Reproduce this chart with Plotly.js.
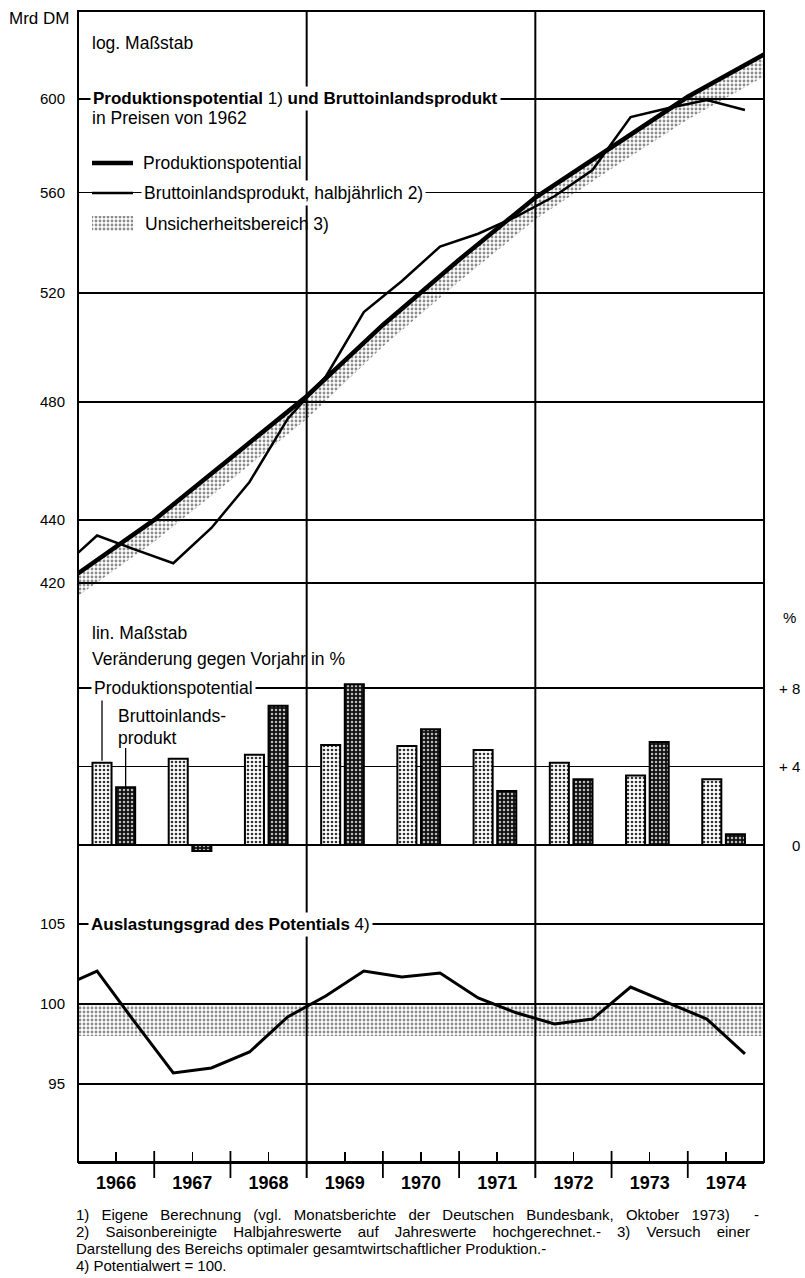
<!DOCTYPE html>
<html>
<head>
<meta charset="utf-8">
<script src="https://cdn.plot.ly/plotly-3.0.1.min.js"></script>
<style>
  html, body { margin: 0; padding: 0; background: #fff; }
  #chart { width: 805px; height: 1278px; }
</style>
</head>
<body>
<div id="chart"></div>
<script>
// ---------------- data ----------------
const years = [1966, 1967, 1968, 1969, 1970, 1971, 1972, 1973, 1974];
const yearLabels = ['1966', '1967', '1968', '1969', '1970', '1971', '1972', '1973', '1974'];

// Produktionspotential (Mrd DM, log scale), read at year boundaries
const potYears = [1966, 1967, 1968, 1969, 1970, 1971, 1972, 1973, 1974, 1975];
const potential = [423, 440, 460.5, 482, 508, 533, 558, 579, 601, 620];
// lower edge of Unsicherheitsbereich
const bandLow = [416, 433, 453, 474, 500, 524.5, 549, 570, 591, 610];

// Bruttoinlandsprodukt, halbjährlich (centres of half-years)
const halfYears = [1965.75, 1966.25, 1966.75, 1967.25, 1967.75, 1968.25, 1968.75, 1969.25, 1969.75,
                   1970.25, 1970.75, 1971.25, 1971.75, 1972.25, 1972.75, 1973.25, 1973.75, 1974.25, 1974.75];
const bip = [424, 435, 430.5, 426.2, 437.4, 452.5, 474, 489, 512.8,
             524.7, 538.2, 543.3, 550.2, 558.5, 569.4, 592.1, 596, 599.6, 595.2];

// Veränderung gegen Vorjahr in %
const potGrowth = [4.2, 4.4, 4.6, 5.1, 5.05, 4.85, 4.2, 3.55, 3.35];
const bipGrowth = [2.95, -0.3, 7.1, 8.2, 5.9, 2.75, 3.35, 5.25, 0.55];

// Auslastungsgrad des Potentials
const util = [101.0, 102.06, 98.83, 95.69, 96.0, 97.0, 99.19, 100.5, 102.06,
              101.69, 101.94, 100.38, 99.45, 98.75, 99.06, 101.06, 100.06, 99.06, 96.88];
const shadeX = [1966, 1975];
const shadeLow = [98, 98];
const shadeHigh = [100, 100];

// ticks
const topTicks = [420, 440, 480, 520, 560, 600];
const midTicks = [0, 4, 8];
const midTickText = ['0', '+ 4', '+ 8'];
const botTicks = [95, 100, 105];
const gridYears = [1969, 1972];

// legend swatch (pixel space of top panel)
const keyX = [92, 133, 133, 92, 92];
const keyY = [216, 216, 231, 231, 216];

// ---------------- geometry helpers ----------------
const L = 78, R = 764, T = 11, B = 1162;
const px = p => (p - L) / (R - L);
const py = p => (B - p) / (B - T);
const FONT = 'Liberation Sans, Arial, sans-serif';
const INK = '#000';

const barW = 0.25, potOff = 0.19, bipOff = 0.5;

const stippleBand = { shape: '.', fgcolor: '#1a1a1a', size: 4, solidity: 0.4, fillmode: 'overlay' };

// ---------------- traces ----------------
const data = [
  { x: potYears, y: bandLow, yaxis: 'y', xaxis: 'x', mode: 'lines', line: { width: 0, color: 'rgba(0,0,0,0)' },
    showlegend: false, hoverinfo: 'skip' },
  { x: potYears, y: potential, yaxis: 'y', xaxis: 'x', mode: 'lines', line: { width: 0, color: 'rgba(0,0,0,0)' },
    fill: 'tonexty', fillcolor: 'rgba(0,0,0,0)', fillpattern: stippleBand, showlegend: false, hoverinfo: 'skip' },
  { x: halfYears, y: bip, yaxis: 'y', xaxis: 'x', mode: 'lines', line: { width: 2.5, color: INK },
    showlegend: false, hoverinfo: 'skip' },
  { x: potYears, y: potential, yaxis: 'y', xaxis: 'x', mode: 'lines', line: { width: 4.5, color: INK },
    showlegend: false, hoverinfo: 'skip' },

  { type: 'bar', x: years, y: potGrowth, yaxis: 'y2', xaxis: 'x', width: barW, offset: potOff,
    marker: { color: '#fff', line: { color: INK, width: 2 },
      pattern: { shape: '.', fgcolor: '#333', bgcolor: '#fff', size: 4, solidity: 0.35, fillmode: 'replace' } },
    showlegend: false, hoverinfo: 'skip' },
  { type: 'bar', x: years, y: bipGrowth, yaxis: 'y2', xaxis: 'x', width: barW, offset: bipOff,
    marker: { color: '#111', line: { color: INK, width: 2 },
      pattern: { shape: '.', fgcolor: '#bbb', bgcolor: '#111', size: 4, solidity: 0.3, fillmode: 'replace' } },
    showlegend: false, hoverinfo: 'skip' },

  { x: shadeX, y: shadeLow, yaxis: 'y3', xaxis: 'x', mode: 'lines', line: { width: 0, color: 'rgba(0,0,0,0)' },
    showlegend: false, hoverinfo: 'skip' },
  { x: shadeX, y: shadeHigh, yaxis: 'y3', xaxis: 'x', mode: 'lines', line: { width: 0, color: 'rgba(0,0,0,0)' },
    fill: 'tonexty', fillcolor: 'rgba(0,0,0,0)', fillpattern: stippleBand, showlegend: false, hoverinfo: 'skip' },
  { x: halfYears, y: util, yaxis: 'y3', xaxis: 'x', mode: 'lines', line: { width: 3, color: INK },
    showlegend: false, hoverinfo: 'skip' },

  { x: keyX, y: keyY, xaxis: 'x2', yaxis: 'y4', mode: 'lines', line: { width: 0, color: 'rgba(0,0,0,0)' },
    fill: 'toself', fillcolor: 'rgba(0,0,0,0)', fillpattern: stippleBand, showlegend: false, hoverinfo: 'skip' }
];

// ---------------- shapes ----------------
const shapes = [];
shapes.push({ type: 'rect', xref: 'paper', yref: 'paper', x0: 0, x1: 1, y0: 0, y1: 1,
  line: { color: INK, width: 2 }, layer: 'above' });
gridYears.forEach(g => shapes.push({ type: 'line', xref: 'x', yref: 'paper', x0: g, x1: g,
  y0: py(1178), y1: 1, line: { color: INK, width: 2 }, layer: 'above' }));
years.slice(1).forEach(yv => {
  if (gridYears.indexOf(yv) < 0) {
    shapes.push({ type: 'line', xref: 'x', yref: 'paper', x0: yv, x1: yv, y0: py(1178), y1: py(1151),
      line: { color: INK, width: 1.8 }, layer: 'above' });
  }
});
shapes.push({ type: 'line', xref: 'paper', yref: 'paper', x0: px(92), x1: px(133), y0: py(163), y1: py(163),
  line: { color: INK, width: 4.5 }, layer: 'above' });
shapes.push({ type: 'line', xref: 'paper', yref: 'paper', x0: px(92), x1: px(133), y0: py(193), y1: py(193),
  line: { color: INK, width: 2.5 }, layer: 'above' });
shapes.push({ type: 'line', xref: 'x', yref: 'y2', x0: years[0] + potOff + barW / 2, x1: years[0] + potOff + barW / 2,
  y0: potGrowth[0] + 0.1, y1: 7.4, line: { color: INK, width: 1.3 }, layer: 'above' });
shapes.push({ type: 'line', xref: 'x', yref: 'y2', x0: years[0] + bipOff + barW / 2, x1: years[0] + bipOff + barW / 2,
  y0: bipGrowth[0], y1: 4.95, line: { color: INK, width: 1.3 }, layer: 'above' });

// ---------------- annotations ----------------
const ann = [];
function txt(text, x, y, size, opts) {
  ann.push(Object.assign({ text: text, xref: 'paper', yref: 'paper', x: x, y: y,
    xanchor: 'left', yanchor: 'middle', showarrow: false, borderpad: 1,
    font: { family: FONT, size: size, color: INK } }, opts || {}));
}
txt('Mrd DM', px(7), py(18), 17);
txt('log. Maßstab', px(90), py(43), 17.5);
txt('<b>Produktionspotential</b> 1) <b>und Bruttoinlandsprodukt</b>', px(90), py(99), 17, { bgcolor: '#fff', borderpad: 2 });
txt('in Preisen von 1962', px(90), py(118), 17.5);
txt('Produktionspotential', px(141), py(163), 17.5);
txt('Bruttoinlandsprodukt, halbjährlich 2)', px(141), py(193), 17.5, { bgcolor: '#fff', borderpad: 2 });
txt('Unsicherheitsbereich 3)', px(143), py(224), 17.5);

txt('lin. Maßstab', px(90), py(633), 17.5);
txt('Veränderung gegen Vorjahr in %', px(90), py(659), 17.5);
txt('Produktionspotential', px(91), py(688), 17.5, { bgcolor: '#fff', borderpad: 2 });
txt('Bruttoinlands-', px(116), py(716), 17.5);
txt('produkt', px(116), py(738), 17.5);
txt('%', px(781), py(617), 15);
midTicks.forEach((v, i) => ann.push({ text: midTickText[i], xref: 'paper', yref: 'y2', x: px(802), y: v,
  xanchor: 'right', yanchor: 'middle', showarrow: false, font: { family: FONT, size: 15, color: INK } }));

txt('<b>Auslastungsgrad des Potentials</b> 4)', px(88), py(924), 17, { bgcolor: '#fff', borderpad: 2 });

// footnotes (first two lines justified to the printed column width)
const foot = [
  '1) Eigene Berechnung (vgl. Monatsberichte der Deutschen Bundesbank, Oktober 1973)  -',
  '2) Saisonbereinigte Halbjahreswerte auf Jahreswerte hochgerechnet.- 3) Versuch einer',
  'Darstellung des Bereichs optimaler gesamtwirtschaftlicher Produktion.-',
  '4) Potentialwert = 100.'
];
const footJustify = [683, 674, 0, 0];
const footY = [1214, 1231, 1248, 1265];
foot.forEach((f, i) => txt(f, px(75), py(footY[i]), 15, { borderpad: 0 }));

// ---------------- layout ----------------
const gridStyle = { showgrid: true, gridcolor: INK, gridwidth: 1.5, zeroline: false, ticks: '', showline: false,
  tickfont: { family: FONT, size: 15, color: INK }, ticklabelstandoff: 12, fixedrange: true };

const layout = {
  width: 805, height: 1278,
  margin: { l: L, r: 805 - R, t: T, b: 1278 - B, pad: 0 },
  paper_bgcolor: '#fff', plot_bgcolor: 'rgba(0,0,0,0)',
  showlegend: false,
  barmode: 'overlay',
  font: { family: FONT, color: INK },
  xaxis: { domain: [0, 1], range: [1966, 1975], anchor: 'y3', showgrid: false, zeroline: false,
    showline: true, linecolor: INK, linewidth: 2,
    tickvals: years.map(v => v + 0.5), ticktext: yearLabels,
    ticks: 'inside', ticklen: 10, tickwidth: 1.5, tickcolor: INK, ticklabelstandoff: 3,
    tickfont: { family: FONT, size: 18, color: INK, weight: 'bold' } },
  yaxis: Object.assign({}, gridStyle, { domain: [py(600), 1], type: 'log', anchor: 'x',
    range: [Math.log10(414.8), Math.log10(640.2)], tickvals: topTicks, ticktext: topTicks.map(String) }),
  yaxis2: Object.assign({}, gridStyle, { domain: [py(870), py(600)], anchor: 'x', side: 'right',
    range: [-(870 - 845) / 19.6, (845 - 600) / 19.6], tickvals: midTicks, showticklabels: false,
    zeroline: true, zerolinecolor: INK, zerolinewidth: 2.5 }),
  yaxis3: Object.assign({}, gridStyle, { domain: [0, py(870)], anchor: 'x',
    range: [90.125, 108.375], tickvals: botTicks, ticktext: botTicks.map(String) }),
  xaxis2: { overlaying: 'x', range: [L, R], visible: false, anchor: 'y4', fixedrange: true },
  yaxis4: { overlaying: 'y', range: [600, 11], visible: false, anchor: 'x2', fixedrange: true },
  shapes: shapes,
  annotations: ann
};

const gd = document.getElementById('chart');
Plotly.newPlot(gd, data, layout, { staticPlot: true, displayModeBar: false }).then(function () {
  try {
    // draw the vertical rules above the white text backgrounds, as in the original
    const svgs = gd.querySelectorAll('svg.main-svg');
    const above = svgs[0].querySelector('g.layer-above');
    if (svgs.length > 1 && above) svgs[1].appendChild(above);
  } catch (e) {}
  try {
    // justify the first two footnote lines (word spacing), keeping their left edge
    const texts = gd.querySelectorAll('g.annotation-text-g text');
    texts.forEach(function (t) {
      const i = foot.indexOf(t.textContent);
      if (i >= 0 && footJustify[i] > 0) {
        const w = t.getComputedTextLength();
        const gaps = (foot[i].match(/ /g) || []).length;
        if (gaps > 0 && footJustify[i] > w) {
          const box0 = t.getBoundingClientRect();
          t.setAttribute('word-spacing', ((footJustify[i] - w) / gaps).toFixed(2));
          const box1 = t.getBoundingClientRect();
          const dx = box0.left - box1.left;
          const prev = t.getAttribute('transform') || '';
          t.setAttribute('transform', prev + ' translate(' + dx.toFixed(2) + ',0)');
        }
      }
    });
  } catch (e) {}
});
</script>
</body>
</html>
